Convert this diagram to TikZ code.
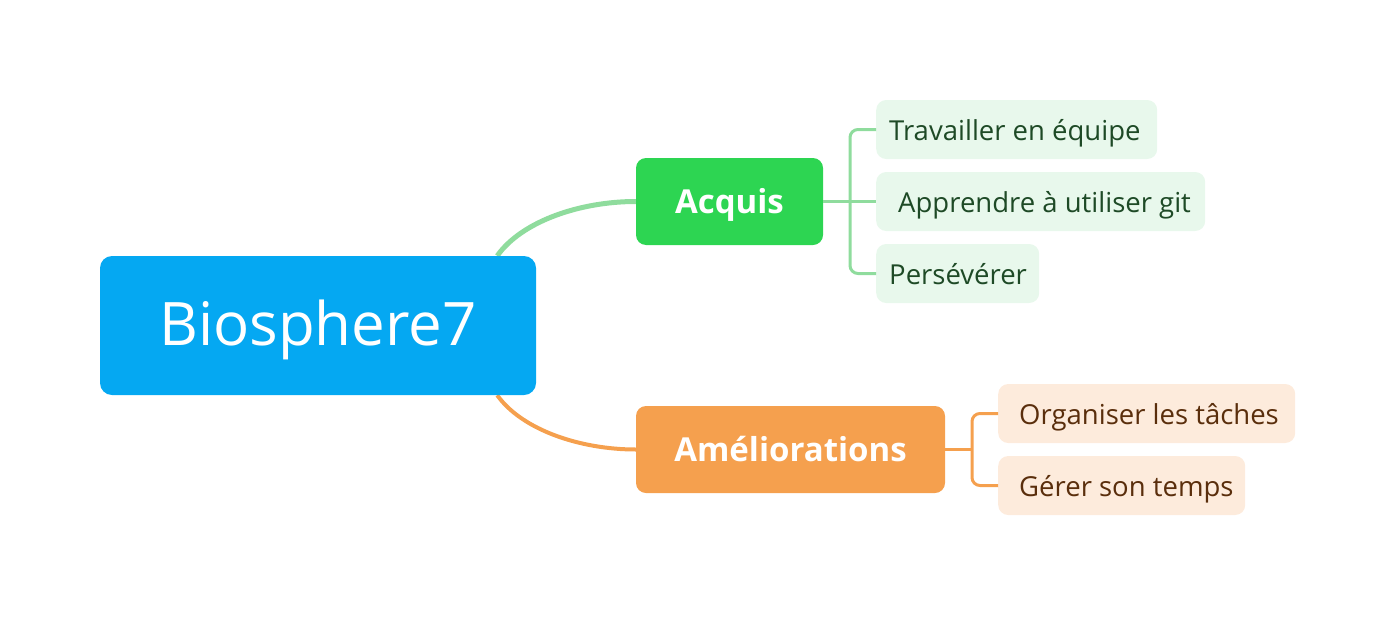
\documentclass[tikz,border=0pt]{standalone}
\usepackage{fontspec}
\setmainfont{Open Sans}[Ligatures=NoCommon]
\usetikzlibrary{backgrounds}
\definecolor{bioblue}{HTML}{05A8F2}
\definecolor{acqgreen}{HTML}{2DD552}
\definecolor{linegreen}{HTML}{8FDC9D}
\definecolor{subgreen}{HTML}{E8F8EC}
\definecolor{txtgreen}{HTML}{1E4A26}
\definecolor{ameorange}{HTML}{F5A04E}
\definecolor{suborange}{HTML}{FDEBDC}
\definecolor{txtorange}{HTML}{5A2E0C}
\tikzset{
  central/.style={fill=bioblue, text=white, rounded corners=12pt, inner sep=0pt,
    minimum width=436pt, minimum height=139pt, text height=39pt, text depth=0pt,
    font=\fontsize{60}{70}\selectfont},
  maintopic/.style={rounded corners=10pt, inner sep=0pt, text=white,
    minimum height=87pt, text height=23pt, text depth=0pt,
    font=\fontsize{33}{40}\selectfont\bfseries},
  subtopic/.style={rounded corners=10pt, inner xsep=13pt, inner ysep=0pt, anchor=west,
    minimum height=59pt, text height=21pt, text depth=0pt,
    font=\fontsize{27.5}{32}\selectfont},
  gsub/.style={subtopic, fill=subgreen, text=txtgreen},
  osub/.style={subtopic, fill=suborange, text=txtorange},
  gline/.style={draw=linegreen, line width=3pt, rounded corners=8pt},
  oline/.style={draw=ameorange, line width=3pt, rounded corners=8pt},
}
\begin{document}
\begin{tikzpicture}[x=1pt,y=-1pt]
\useasboundingbox (0,0) rectangle (1396,621);
\node[central] (bio) at (318,325.5) {Biosphere7};
\node[maintopic, fill=acqgreen, minimum width=187pt] (acq) at (729.5,201.5) {Acquis};
\node[maintopic, fill=ameorange, minimum width=309pt] (ame) at (790.5,449.5) {Améliorations};
\begin{scope}[on background layer]
\draw[draw=linegreen, line width=5pt] ([xshift=-39pt]bio.north east) .. controls +(25,-35) and +(-55,0) .. (acq.west);
\draw[draw=ameorange, line width=4pt] ([xshift=-39pt]bio.south east) .. controls +(25,35) and +(-55,0) .. (ame.west);
\end{scope}
% green subtopics
\node[gsub] (t1) at (876,129.5) {\makebox[255pt][l]{Travailler en équipe}};
\node[gsub] (t2) at (876,201.5) {\makebox[303pt][l]{\hspace*{9pt}Apprendre à utiliser git}};
\node[gsub] (t3) at (876,273.5) {\makebox[137pt][l]{Persévérer}};
\coordinate (gj) at (850,201.5);
\draw[gline] (acq.east) -- (t2.west);
\draw[gline] (t1.west) -| (gj) |- (t3.west);
% orange subtopics
\node[osub] (o1) at (998,413.5) {\makebox[271pt][l]{\hspace*{8pt}Organiser les tâches}};
\node[osub] (o2) at (998,485.5) {\makebox[221pt][l]{\hspace*{8pt}Gérer son temps}};
\coordinate (oj) at (972,449.5);
\draw[oline] (ame.east) -- (oj);
\draw[oline] (o1.west) -| (oj) |- (o2.west);
\end{tikzpicture}
\end{document}
